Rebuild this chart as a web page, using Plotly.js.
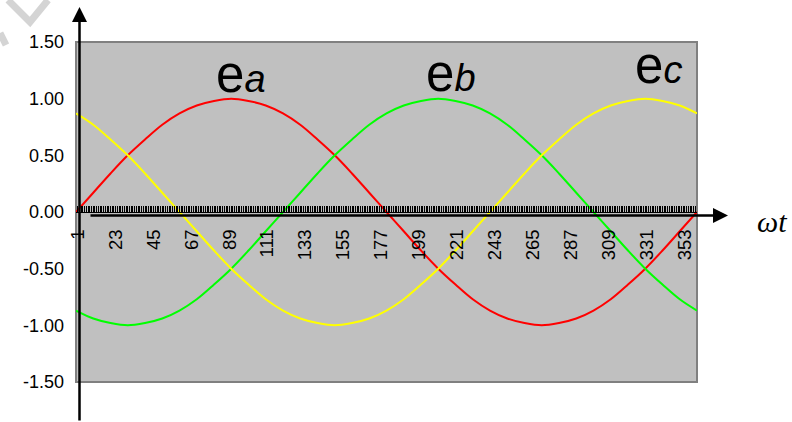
<!DOCTYPE html>
<html>
<head>
<meta charset="utf-8">
<script src="https://cdn.plot.ly/plotly-3.0.1.min.js"></script>
<style>
  html, body { margin: 0; padding: 0; background: #ffffff; }
  #chart { width: 792px; height: 422px; }
</style>
</head>
<body>
<div id="chart"></div>
<script>
// Three-phase EMF over one electrical turn (degrees)
const angleDeg = [0, 10, 20, 30, 40, 50, 60, 70, 80, 90, 100, 110, 120, 130, 140, 150, 160, 170, 180,
                  190, 200, 210, 220, 230, 240, 250, 260, 270, 280, 290, 300, 310, 320, 330, 340, 350, 360];

const ea = [0.00, 0.17, 0.34, 0.50, 0.64, 0.77, 0.87, 0.94, 0.98, 1.00, 0.98, 0.94, 0.87, 0.77, 0.64, 0.50, 0.34, 0.17, 0.00,
            -0.17, -0.34, -0.50, -0.64, -0.77, -0.87, -0.94, -0.98, -1.00, -0.98, -0.94, -0.87, -0.77, -0.64, -0.50, -0.34, -0.17, 0.00];

const eb = [-0.87, -0.94, -0.98, -1.00, -0.98, -0.94, -0.87, -0.77, -0.64, -0.50, -0.34, -0.17, 0.00, 0.17, 0.34, 0.50, 0.64, 0.77, 0.87,
            0.94, 0.98, 1.00, 0.98, 0.94, 0.87, 0.77, 0.64, 0.50, 0.34, 0.17, 0.00, -0.17, -0.34, -0.50, -0.64, -0.77, -0.87];

const ec = [0.87, 0.77, 0.64, 0.50, 0.34, 0.17, 0.00, -0.17, -0.34, -0.50, -0.64, -0.77, -0.87, -0.94, -0.98, -1.00, -0.98, -0.94, -0.87,
            -0.77, -0.64, -0.50, -0.34, -0.17, 0.00, 0.17, 0.34, 0.50, 0.64, 0.77, 0.87, 0.94, 0.98, 1.00, 0.98, 0.94, 0.87];

const xTickVals = [1, 23, 45, 67, 89, 111, 133, 155, 177, 199, 221, 243, 265, 287, 309, 331, 353];
const xTickText = ['1', '23', '45', '67', '89', '111', '133', '155', '177', '199', '221', '243', '265', '287', '309', '331', '353'];

const yTickVals = [-1.5, -1.0, -0.5, 0.0, 0.5, 1.0, 1.5];
const yTickText = ['-1.50', '-1.00', '-0.50', '0.00', '0.50', '1.00', '1.50'];

// Plot-area box in page pixels, used to place the free-floating decorations
const L = 76, R = 697, T = 42, B = 382;
const px = x => (x - L) / (R - L);
const py = y => (B - y) / (B - T);

const FONT = 'Liberation Sans, Arial, sans-serif';

const traces = [
  { x: angleDeg, y: ea, mode: 'lines', line: { color: '#FF0000', width: 2, shape: 'spline' } },
  { x: angleDeg, y: eb, mode: 'lines', line: { color: '#00FF00', width: 2, shape: 'spline' } },
  { x: angleDeg, y: ec, mode: 'lines', line: { color: '#FFFF00', width: 2, shape: 'spline' } }
];

const phaseLabel = (sub) =>
  'e<span style="font-size:38px"><i>' + sub + '</i></span>';

const layout = {
  width: 792,
  height: 422,
  margin: { l: L, r: 792 - R, t: T, b: 422 - B, pad: 0 },
  paper_bgcolor: '#ffffff',
  plot_bgcolor: '#C0C0C0',
  showlegend: false,
  font: { family: FONT, color: '#000000' },
  xaxis: {
    range: [0, 360],
    anchor: 'free',
    position: 0.5,
    showgrid: false,
    zeroline: false,
    showline: true,
    linecolor: '#000000',
    linewidth: 1,
    ticks: 'inside',
    ticklen: 6,
    tickwidth: 1,
    tickcolor: '#000000',
    tickmode: 'array',
    tickvals: xTickVals,
    ticktext: xTickText,
    tickangle: -90,
    ticklabelstandoff: 9,
    tickfont: { family: FONT, size: 18.5, color: '#000000' },
    minor: { tickmode: 'linear', tick0: 0, dtick: 1, ticks: 'inside', ticklen: 6, tickwidth: 1, tickcolor: '#000000', showgrid: false }
  },
  yaxis: {
    range: [-1.5, 1.5],
    showgrid: false,
    zeroline: false,
    showline: false,
    ticks: '',
    tickmode: 'array',
    tickvals: yTickVals,
    ticktext: yTickText,
    ticklabelstandoff: 11,
    tickfont: { family: FONT, size: 18, color: '#000000' }
  },
  shapes: [
    // plot-area frame
    { type: 'rect', xref: 'paper', yref: 'paper', x0: 0, x1: 1, y0: 0, y1: 1,
      line: { color: '#808080', width: 2 }, layer: 'below' },
    // faint corner mark
    { type: 'path', xref: 'paper', yref: 'paper', layer: 'below',
      path: `M ${px(8)} ${py(0)} L ${px(30)} ${py(22)} L ${px(48)} ${py(0)}`,
      line: { color: '#D4D4D4', width: 7 } },
    { type: 'line', xref: 'paper', yref: 'paper', layer: 'below',
      x0: px(0), y0: py(33), x1: px(6), y1: py(45),
      line: { color: '#D4D4D4', width: 7 } }
  ],
  annotations: [
    // vertical value arrow
    { xref: 'paper', yref: 'paper', x: px(79.5), y: py(7), text: '', showarrow: true,
      ax: 0, ay: 420, arrowhead: 2, arrowsize: 1.2, arrowwidth: 2.5, arrowcolor: '#000000' },
    // horizontal angle arrow
    { xref: 'paper', yref: 'paper', x: px(728), y: py(215.5), text: '', showarrow: true,
      ax: -(728 - 89), ay: 0, arrowhead: 2, arrowsize: 1.2, arrowwidth: 2.5, arrowcolor: '#000000' },
    { xref: 'paper', yref: 'paper', x: px(772), y: py(221), text: '<i>ωt</i>', showarrow: false,
      xanchor: 'center', yanchor: 'middle',
      font: { family: 'Liberation Serif, Times New Roman, serif', size: 30, color: '#000000' } },
    { xref: 'paper', yref: 'paper', x: px(241), y: py(74), text: phaseLabel('a'), showarrow: false,
      xanchor: 'center', yanchor: 'middle', font: { family: FONT, size: 51, color: '#000000' } },
    { xref: 'paper', yref: 'paper', x: px(451), y: py(73), text: phaseLabel('b'), showarrow: false,
      xanchor: 'center', yanchor: 'middle', font: { family: FONT, size: 51, color: '#000000' } },
    { xref: 'paper', yref: 'paper', x: px(658), y: py(66), text: phaseLabel('c'), showarrow: false,
      xanchor: 'center', yanchor: 'middle', font: { family: FONT, size: 51, color: '#000000' } }
  ]
};

Plotly.newPlot('chart', traces, layout, { staticPlot: true, displayModeBar: false });
</script>
</body>
</html>
